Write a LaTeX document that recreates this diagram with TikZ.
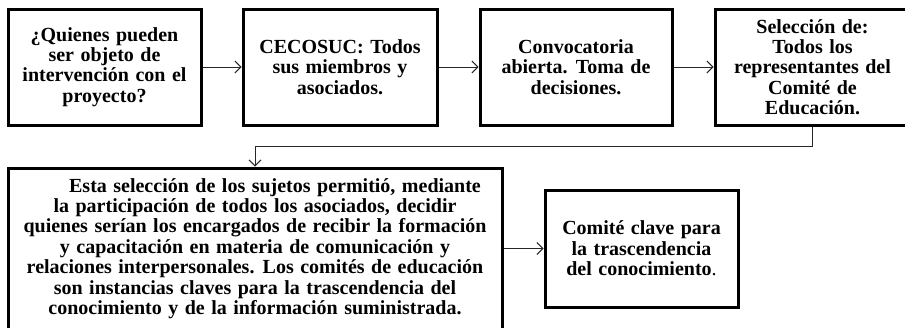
\documentclass[tikz,border=0pt]{standalone}
\usepackage{fontspec}
\setmainfont{Liberation Serif}[WordSpace=1.3]
\usetikzlibrary{shadows,arrows.meta}

\tikzset{
  caja/.style={draw, line width=3pt, fill=white, align=center, inner sep=2pt,
    font=\fontsize{20}{20.4}\selectfont\bfseries,
    drop shadow={shadow xshift=1.2pt, shadow yshift=-1.2pt, opacity=0.35}},
  flecha/.style={-{Straight Barb[length=6pt,width=12pt]}, line width=0.9pt, draw=black!85}
}

\begin{document}
\begin{tikzpicture}[x=1pt,y=-1pt]
\useasboundingbox (0,0) rectangle (905,327);
% fila superior
\node[caja, minimum width=193pt, minimum height=116pt] (quienes) at (104.5,67)
  {¿Quienes pueden\\ser objeto de\\intervención con el\\proyecto?};
\node[caja, minimum width=194pt, minimum height=116pt] (cecosuc) at (340,67)
  {CECOSUC: Todos\\sus miembros y\\asociados.};
\node[caja, minimum width=192pt, minimum height=116pt] (convoca) at (576,67)
  {Convocatoria\\abierta. Toma de\\decisiones.};
\node[caja, minimum width=195pt, minimum height=116pt] (seleccion) at (812.5,67)
  {Selección de:\\Todos los\\representantes del\\Comité de\\Educación.};
%
\draw[flecha] (quienes.east) -- (cecosuc.west);
\draw[flecha] (cecosuc.east) -- (convoca.west);
\draw[flecha] (convoca.east) -- (seleccion.west);
%
% fila inferior
\node[caja, minimum width=494pt, minimum height=161pt] (sujetos) at (255,248.5)
  {\hspace*{2em}Esta selección de los sujetos permitió, mediante\\
   la participación de todos los asociados, decidir\\
   quienes serían los encargados de recibir la formación\\
   y capacitación en materia de comunicación y\\
   relaciones interpersonales. Los comités de educación\\
   son instancias claves para la trascendencia del\\
   conocimiento y de la información suministrada.};
\node[caja, minimum width=193pt, minimum height=117pt] (comite) at (641.5,248.5)
  {Comité clave para\\la trascendencia\\del conocimiento\mdseries.};
%
\coordinate (codo) at (sujetos.north |- 0,146);
\draw[flecha] (seleccion.south) |- (codo) -- (sujetos.north);
\draw[flecha] (sujetos.east |- comite.west) -- (comite.west);
\end{tikzpicture}
\end{document}
